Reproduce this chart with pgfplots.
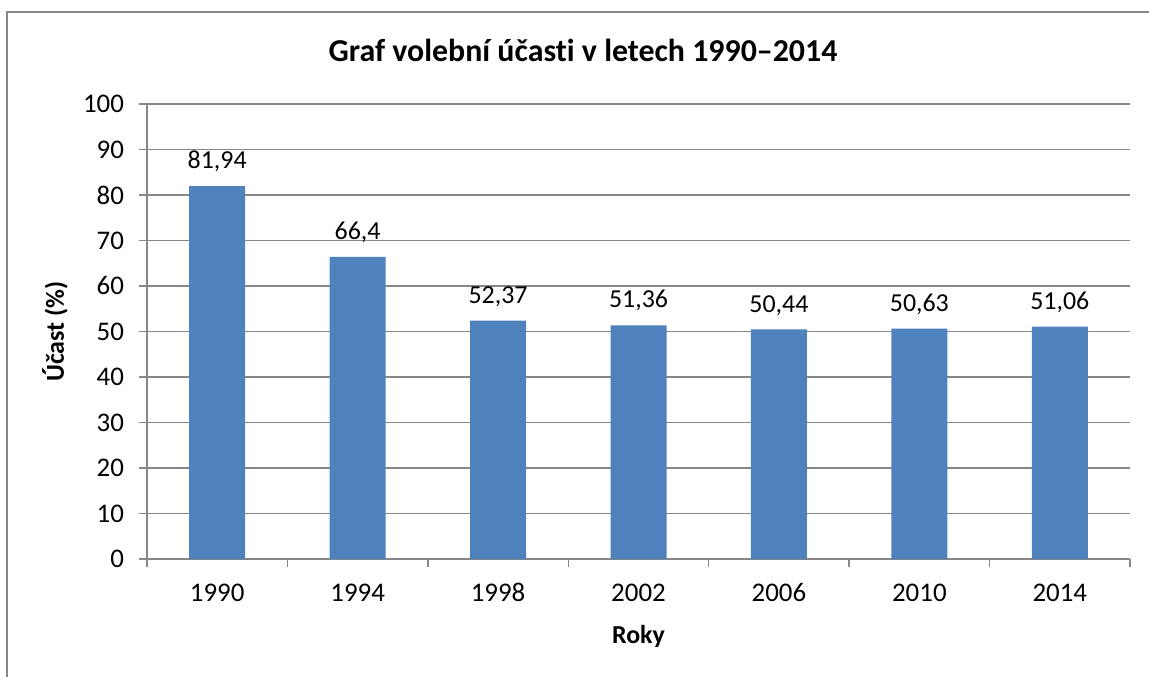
\documentclass[border=0pt]{standalone}
\usepackage{pgfplots}
\pgfplotsset{compat=1.18}
\usepackage{fontspec}
\setmainfont[Ligatures=NoCommon]{Carlito}
\definecolor{barblue}{HTML}{4F81BD}
\definecolor{gridgray}{HTML}{878787}
\begin{document}
\begin{tikzpicture}
\useasboundingbox (0,0) rectangle (574.5bp,338.5bp);
\draw[gridgray, line width=1bp] (3.5bp,0) -- (3.5bp,332.5bp) -- (574.5bp,332.5bp);
\node[font=\fontsize{16}{19}\selectfont\bfseries] at (291.5bp,313.5bp) {Graf volební účasti v letech 1990–2014};
\begin{axis}[
  at={(73.5bp,59bp)}, anchor=south west,
  scale only axis, width=491.5bp, height=227.5bp,
  xmin=-0.5, xmax=6.5, ymin=0, ymax=100,
  ytick={0,10,...,100},
  xtick={0,...,6},
  xticklabels={1990,1994,1998,2002,2006,2010,2014},
  minor xtick={-0.5,0.5,...,6.5},
  axis x line*=bottom, axis y line*=left,
  axis line style={gridgray, line width=0.75bp, -},
  ymajorgrids, grid style={gridgray, line width=0.75bp},
  tick align=outside,
  major tick length=4bp, minor tick length=4bp,
  xtick style={draw=none},
  minor x tick style={draw=gridgray, line width=0.75bp},
  ytick style={gridgray, line width=0.75bp},
  tick label style={font=\fontsize{13.5}{16}\selectfont},
  /pgf/number format/assume math mode=true,
  /pgf/number format/use comma,
  yticklabel style={xshift=-4bp},
  xticklabel style={yshift=-4bp, text height=9.5bp, text depth=0bp},
  xlabel={Roky}, ylabel={Účast (\%)},
  every axis x label/.style={at={(axis description cs:0.5,0)}, yshift=-38.5bp, anchor=center, font=\fontsize{13}{15}\selectfont\bfseries},
  every axis y label/.style={at={(axis description cs:0,0.5)}, xshift=-46bp, rotate=90, anchor=center, font=\fontsize{13}{15}\selectfont\bfseries},
  nodes near coords,
  every node near coord/.append style={font=\fontsize{13}{15}\selectfont, black, yshift=3.5bp},
  clip=false,
]
\addplot[ybar, bar width=28bp, fill=barblue, draw=none] coordinates {
(0,81.94) (1,66.4) (2,52.37) (3,51.36) (4,50.44) (5,50.63) (6,51.06)};
\end{axis}
\end{tikzpicture}
\end{document}
